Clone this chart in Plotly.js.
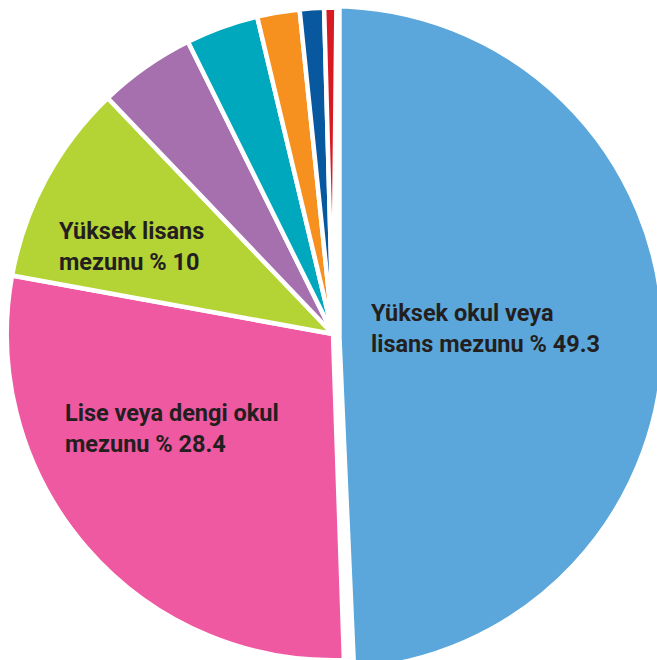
<!DOCTYPE html>
<html>
<head>
<meta charset="utf-8">
<script src="https://cdn.plot.ly/plotly-3.0.1.min.js"></script>
<style>
  html, body { margin: 0; padding: 0; width: 657px; height: 660px; overflow: hidden; background: #ffffff; }
  #chart { position: absolute; left: -30px; top: -30px; width: 720px; height: 720px; }
</style>
</head>
<body>
<div id="chart"></div>
<script>
// ---- data ----
const categories = [
  "Yüksek okul veya<br>lisans mezunu",
  "Lise veya dengi okul<br>mezunu",
  "Yüksek lisans<br>mezunu",
  "Ortaokul mezunu",
  "İlkokul mezunu",
  "Doktora",
  "Okur-yazar",
  "Diğer"
];
const shares = [49.3, 28.4, 10, 4.8, 3.6, 2.1, 1.2, 0.6];
const sliceColors = ["#5ba7db", "#ef59a1", "#b4d334", "#a570ad", "#00a8bd", "#f6901e", "#0858a0", "#d71b23"];
const labelledSlices = [0, 1, 2];

// ---- layout helpers (div is 720x720, offset -30,-30 in the window) ----
const DIV = 720, OFF = 30;
const px = X => (X + OFF) / DIV;
const py = Y => 1 - (Y + OFF) / DIV;
function domainFor(cx, cy, r) {
  return { x: [px(cx - r), px(cx + r)], y: [py(cy + r), py(cy - r)] };
}
const clear = "rgba(0,0,0,0)";

// trace 1: the large slice alone, with a wide white edge
const t1Colors = sliceColors.map((c, i) => i === 0 ? c : clear);
const t1Lines = sliceColors.map((c, i) => i === 0 ? "#ffffff" : clear);
// trace 2: all remaining slices
const t2Colors = sliceColors.map((c, i) => i === 0 ? clear : c);
const t2Lines = sliceColors.map((c, i) => i === 0 ? clear : "#ffffff");

const common = {
  type: "pie",
  labels: categories,
  values: shares,
  sort: false,
  direction: "clockwise",
  textinfo: "none",
  hoverinfo: "skip",
  showlegend: false
};

const trace1 = Object.assign({}, common, {
  domain: domainFor(331.7, 338, 339.5),
  rotation: 0,
  marker: { colors: t1Colors, line: { color: t1Lines, width: 20 } }
});
const trace2 = Object.assign({}, common, {
  domain: domainFor(333, 334, 326.25),
  rotation: 0.6,
  marker: { colors: t2Colors, line: { color: t2Lines, width: 4.5 } }
});

const labelPos = [ [369, 328], [63, 429], [57, 246] ];
const annotations = labelledSlices.map((idx, k) => ({
  xref: "paper", yref: "paper",
  x: px(labelPos[k][0]), y: py(labelPos[k][1]),
  xanchor: "left", yanchor: "middle", align: "left",
  showarrow: false,
  text: categories[idx] + " % " + shares[idx],
  font: { family: "Roboto, 'DejaVu Sans', sans-serif", size: 23.5, color: "#231f20", weight: 700 }
}));

const layout = {
  width: DIV, height: DIV,
  margin: { l: 0, r: 0, t: 0, b: 0 },
  paper_bgcolor: "#ffffff",
  plot_bgcolor: "#ffffff",
  showlegend: false,
  annotations: annotations
};

Plotly.newPlot("chart", [trace1, trace2], layout, { staticPlot: true, displayModeBar: false });
</script>
</body>
</html>
